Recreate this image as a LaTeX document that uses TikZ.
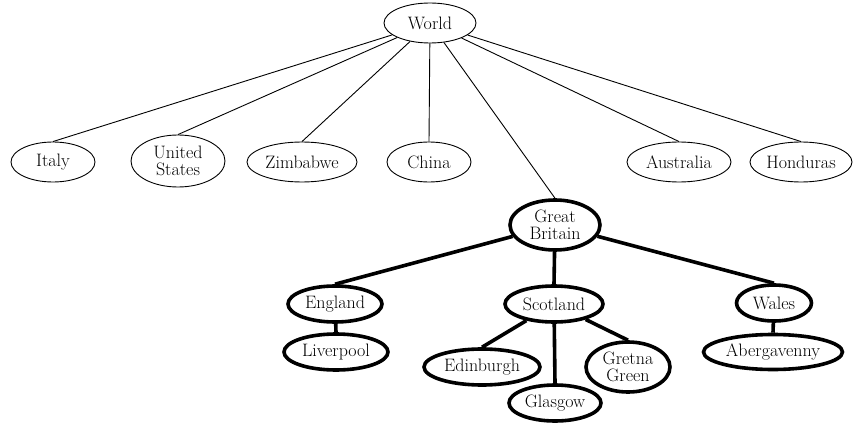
\documentclass[tikz,border=0pt]{standalone}
\usepackage{fontspec}
\usetikzlibrary{shapes.geometric}
\tikzstyle{place} = [ellipse, draw, line width=0.9pt, inner sep=0pt, align=center,
    font=\fontsize{18}{17}\selectfont]
\tikzstyle{ukplace} = [place, line width=3.6pt]
\tikzstyle{link} = [line width=0.9pt]
\tikzstyle{uklink} = [line width=3.6pt]

\begin{document}
\begin{tikzpicture}[x=1pt, y=-1pt]
            \useasboundingbox (0, 0) rectangle (854, 425);

            \node[place, minimum width=92, minimum height=40] (world) at (430, 23) {World};

            \node[place, minimum width=84, minimum height=40] (italy) at (53, 162) {Italy};
            \node[place, minimum width=94, minimum height=52] (states) at (178, 161) {United\\States};
            \node[place, minimum width=110, minimum height=40] (zimbabwe) at (302, 162) {Zimbabwe};
            \node[place, minimum width=84, minimum height=40] (china) at (429, 162) {China};
            \node[place, minimum width=104, minimum height=40] (australia) at (679, 162) {Australia};
            \node[place, minimum width=102, minimum height=40] (honduras) at (801, 162) {Honduras};

            \node[ukplace, minimum width=90, minimum height=50] (britain) at (555, 225) {Great\\Britain};

            \node[ukplace, minimum width=94, minimum height=36] (england) at (335, 304) {England};
            \node[ukplace, minimum width=98, minimum height=36] (scotland) at (554, 304) {Scotland};
            \node[ukplace, minimum width=75, minimum height=36] (wales) at (774, 303) {Wales};

            \node[ukplace, minimum width=104, minimum height=36] (liverpool) at (336, 352) {Liverpool};
            \node[ukplace, minimum width=116, minimum height=36] (edinburgh) at (482, 367) {Edinburgh};
            \node[ukplace, minimum width=92, minimum height=36] (glasgow) at (555, 403) {Glasgow};
            \node[ukplace, minimum width=84, minimum height=50] (gretna) at (628, 367) {Gretna\\Green};
            \node[ukplace, minimum width=139, minimum height=35] (abergavenny) at (773, 352) {Abergavenny};

            \draw[link] (world) -- (italy.north);
            \draw[link] (world) -- (states.north);
            \draw[link] (world) -- (zimbabwe.north);
            \draw[link] (world) -- (china.north);
            \draw[link] (world) -- (britain.north);
            \draw[link] (world) -- (australia.north);
            \draw[link] (world) -- (honduras.north);

            \draw[uklink] (britain) -- (england.north);
            \draw[uklink] (britain) -- (scotland.north);
            \draw[uklink] (britain) -- (wales.north);

            \draw[uklink] (england) -- (liverpool.north);
            \draw[uklink] (scotland) -- (edinburgh.north);
            \draw[uklink] (scotland) -- (glasgow.north);
            \draw[uklink] (scotland) -- (gretna.north);
            \draw[uklink] (wales) -- (abergavenny.north);
        \end{tikzpicture}
\end{document}
